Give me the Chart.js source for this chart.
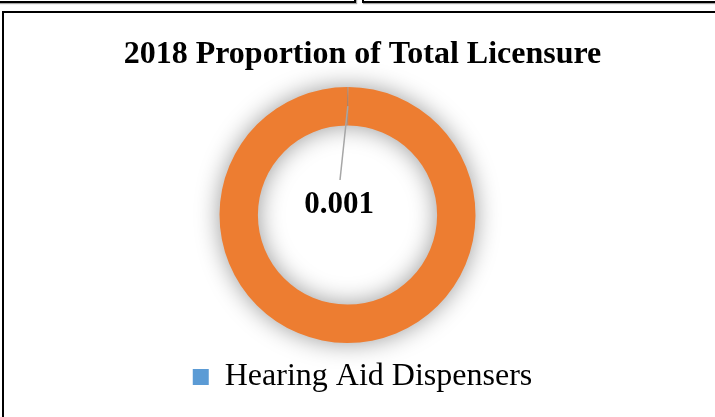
<!DOCTYPE html>
<html>
<head>
<meta charset="utf-8">
<script src="https://cdn.jsdelivr.net/npm/chart.js@4/dist/chart.umd.min.js"></script>
<style>
  html, body { margin: 0; padding: 0; background: #fff; }
  body { width: 715px; height: 417px; position: relative; overflow: hidden; }
  .frame { position: absolute; box-sizing: border-box; border: 2px solid #000; box-shadow: 1px 1px 1px rgba(0,0,0,0.35); }
  #wrap { position: absolute; left: 0; top: 0; width: 715px; height: 417px; }
</style>
</head>
<body>
<div class="frame" style="left:-10px; top:-100px; width:366px; height:103px;"></div>
<div class="frame" style="left:362px; top:-100px; width:400px; height:103px;"></div>
<div class="frame" style="left:2px; top:11px; width:800px; height:500px;"></div>
<div id="wrap"><canvas id="grafico"></canvas></div>

<script>
const titulo = '2018 Proportion of Total Licensure';
const categorias = ['Hearing Aid Dispensers', 'All Other Licensees'];
const valores = [0.001, 0.999];
const cores = ['#5B9BD5', '#ED7D31'];
const legendaVisivel = ['Hearing Aid Dispensers'];
const rotulos = ['0.001'];

const fonte = 'Liberation Serif, Times New Roman, serif';

// doughnut is drawn a bit left of the title centre
const deslocaArea = {
  id: 'deslocaArea',
  afterLayout(chart) {
    chart.chartArea.left -= 15;
    chart.chartArea.right -= 15;
  }
};

// soft shadow round the ring + the leader line / label
const sombraRotulo = {
  id: 'sombraRotulo',
  beforeDatasetsDraw(chart) {
    const ctx = chart.ctx;
    ctx.save();
    ctx.shadowColor = 'rgba(0,0,0,0.4)';
    ctx.shadowBlur = 24;
  },
  afterDatasetsDraw(chart) {
    const ctx = chart.ctx;
    ctx.restore();

    const arc = chart.getDatasetMeta(0).data[0];
    const p = arc.getProps(['x', 'y', 'startAngle', 'endAngle', 'innerRadius', 'outerRadius'], true);
    const meio = (p.startAngle + p.endAngle) / 2;
    const r = (p.innerRadius + p.outerRadius) / 2;
    const x0 = p.x + Math.cos(meio) * r;
    const y0 = p.y + Math.sin(meio) * r;
    const lx = p.x - 8.5;
    const ly = p.y - 10;

    ctx.save();
    ctx.strokeStyle = '#A6A6A6';
    ctx.lineWidth = 1.5;
    ctx.beginPath();
    ctx.moveTo(x0, y0);
    ctx.lineTo(lx + 1, ly - 25);
    ctx.stroke();

    ctx.fillStyle = '#000';
    ctx.font = 'bold 31px ' + fonte;
    ctx.textAlign = 'center';
    ctx.textBaseline = 'middle';
    ctx.fillText(rotulos[0], lx, ly);
    ctx.restore();
  }
};

new Chart(document.getElementById('grafico'), {
  type: 'doughnut',
  data: {
    labels: categorias,
    datasets: [{
      data: valores,
      backgroundColor: cores,
      borderWidth: 0,
      clip: false
    }]
  },
  options: {
    responsive: true,
    maintainAspectRatio: false,
    animation: false,
    cutout: '70%',
    layout: { padding: { top: 0, bottom: 14, left: 10, right: 0 } },
    plugins: {
      title: {
        display: true,
        text: titulo,
        color: '#000',
        font: { family: fonte, size: 32, weight: 'bold' },
        padding: { top: 36, bottom: 12.6 }
      },
      legend: {
        position: 'bottom',
        labels: {
          color: '#000',
          font: { family: fonte, size: 32 },
          boxWidth: 16,
          boxHeight: 16,
          padding: 18,
          filter: item => legendaVisivel.includes(item.text)
        }
      },
      tooltip: { enabled: false }
    }
  },
  plugins: [deslocaArea, sombraRotulo]
});
</script>
</body>
</html>
